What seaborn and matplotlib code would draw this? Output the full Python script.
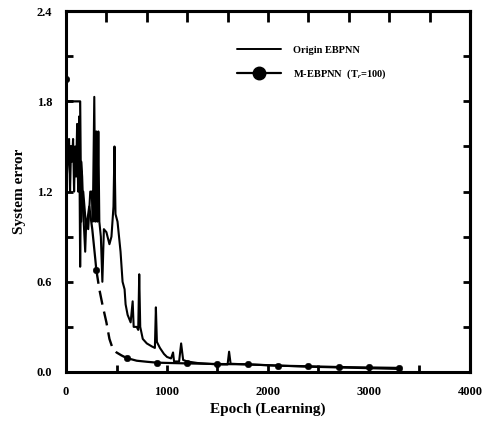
import matplotlib
matplotlib.use("Agg")
import matplotlib.pyplot as plt
import seaborn as sns
from matplotlib.lines import Line2D
from matplotlib.ticker import MultipleLocator, FormatStrFormatter

# ---- data ----
origin_x = [0, 20, 30, 40, 50, 60, 70, 80, 90, 100, 110, 120, 130, 140, 150, 160, 175, 190,
            200, 220, 240, 255, 265, 280, 290, 300, 310, 320, 330, 345, 360, 375, 400, 430,
            450, 470, 480, 490, 510, 540, 560, 580, 590, 610, 640, 660, 670, 700, 715, 725,
            735, 760, 800, 850, 880, 890, 900, 930, 970, 1000, 1040, 1060, 1070, 1090, 1120,
            1140, 1160, 1200, 1300, 1500, 1600, 1615, 1630, 1800, 2000, 2400, 2700, 3000, 3300]
origin_y = [1.2, 1.45, 1.55, 1.2, 1.5, 1.4, 1.55, 1.2, 1.5, 1.3, 1.65, 1.2, 1.7, 0.7, 1.4, 1.3,
            1.0, 0.8, 1.0, 0.95, 1.2, 1.2, 1.0, 1.83, 1.0, 1.6, 1.0, 1.6, 1.0, 0.9, 0.6, 0.95,
            0.93, 0.85, 0.9, 1.1, 1.5, 1.05, 1.0, 0.8, 0.6, 0.55, 0.45, 0.38, 0.33, 0.47, 0.3,
            0.3, 0.28, 0.65, 0.3, 0.22, 0.19, 0.17, 0.16, 0.43, 0.2, 0.16, 0.12, 0.1, 0.09,
            0.13, 0.07, 0.07, 0.07, 0.19, 0.08, 0.07, 0.06, 0.05, 0.05, 0.135, 0.055, 0.05,
            0.045, 0.035, 0.03, 0.025, 0.02]

m_start_x = [0, 5, 140, 150, 170, 200, 230, 260, 290, 300]
m_start_y = [1.95, 1.8, 1.8, 1.0, 1.2, 0.95, 1.1, 0.95, 0.75, 0.68]
m_mid_x = [300, 330, 360, 400, 430, 460, 500, 550, 600]
m_mid_y = [0.68, 0.55, 0.45, 0.33, 0.22, 0.16, 0.13, 0.11, 0.093]
m_late_x = [600, 700, 800, 900, 1200, 1500, 1800, 2100, 2400, 2700, 3000, 3300]
m_late_y = [0.093, 0.075, 0.068, 0.062, 0.057, 0.053, 0.051, 0.042, 0.038, 0.033, 0.03, 0.027]
marker_x = [0, 300, 600, 900, 1200, 1500, 1800, 2100, 2400, 2700, 3000, 3300]
marker_y = [1.95, 0.68, 0.093, 0.062, 0.057, 0.053, 0.051, 0.042, 0.038, 0.033, 0.03, 0.027]

labels = ["Origin EBPNN", "M-EBPNN  (T$_r$=100)"]

sns.set_style("ticks")
plt.rcParams["font.family"] = ["Liberation Serif", "DejaVu Serif"]
plt.rcParams["font.weight"] = "bold"
plt.rcParams["mathtext.fontset"] = "stix"
plt.rcParams["text.color"] = "black"
plt.rcParams["axes.labelcolor"] = "black"
plt.rcParams["xtick.color"] = "black"
plt.rcParams["ytick.color"] = "black"
plt.rcParams["axes.edgecolor"] = "black"

fig = plt.figure(figsize=(4.89, 4.23), dpi=100)
ax = fig.add_axes([0.135, 0.1206, 0.826, 0.853])

sns.lineplot(x=origin_x, y=origin_y, ax=ax, color="black", lw=1.5, estimator=None, sort=False)
sns.lineplot(x=m_start_x, y=m_start_y, ax=ax, color="black", lw=1.6, estimator=None, sort=False)
sns.lineplot(x=m_mid_x, y=m_mid_y, ax=ax, color="black", lw=1.7, estimator=None,
             sort=False, linestyle=(0, (6, 3)))
sns.lineplot(x=m_late_x, y=m_late_y, ax=ax, color="black", lw=1.6, estimator=None, sort=False)
sns.scatterplot(x=marker_x, y=marker_y, ax=ax, color="black", s=22, edgecolor="black", zorder=5)

ax.set_xlim(0, 4000)
ax.set_ylim(0, 2.4)
ax.xaxis.set_major_locator(MultipleLocator(1000))
ax.xaxis.set_minor_locator(MultipleLocator(500))
ax.yaxis.set_major_locator(MultipleLocator(0.6))
ax.yaxis.set_minor_locator(MultipleLocator(0.3))
ax.yaxis.set_major_formatter(FormatStrFormatter("%.1f"))
ax.tick_params(which="both", direction="in", length=5, width=2, top=False, right=False,
               labelsize=9, pad=10)

top = ax.secondary_xaxis("top")
top.set_xticks([400 * i for i in range(1, 10)])
top.tick_params(direction="in", length=8, width=2, labeltop=False)
right = ax.secondary_yaxis("right")
right.set_yticks([0.3 * i for i in range(1, 8)])
right.tick_params(direction="in", length=5, width=2, labelright=False)
for a in (ax, top, right):
    for s in a.spines.values():
        s.set_linewidth(2.2)
        s.set_color("black")

ax.set_xlabel("Epoch (Learning)", fontsize=11, fontweight="bold", labelpad=3)
ax.set_ylabel("System error", fontsize=11, fontweight="bold", labelpad=8)

handles = [Line2D([], [], color="black", lw=1.4),
           Line2D([], [], color="black", lw=1.6, marker="o", markersize=9)]
ax.legend(handles, labels, loc="upper left", bbox_to_anchor=(0.40, 0.93), frameon=False,
          fontsize=7.5, handlelength=4.2, labelspacing=1.2, handletextpad=1.2)

fig.savefig("out.png", dpi=100)
